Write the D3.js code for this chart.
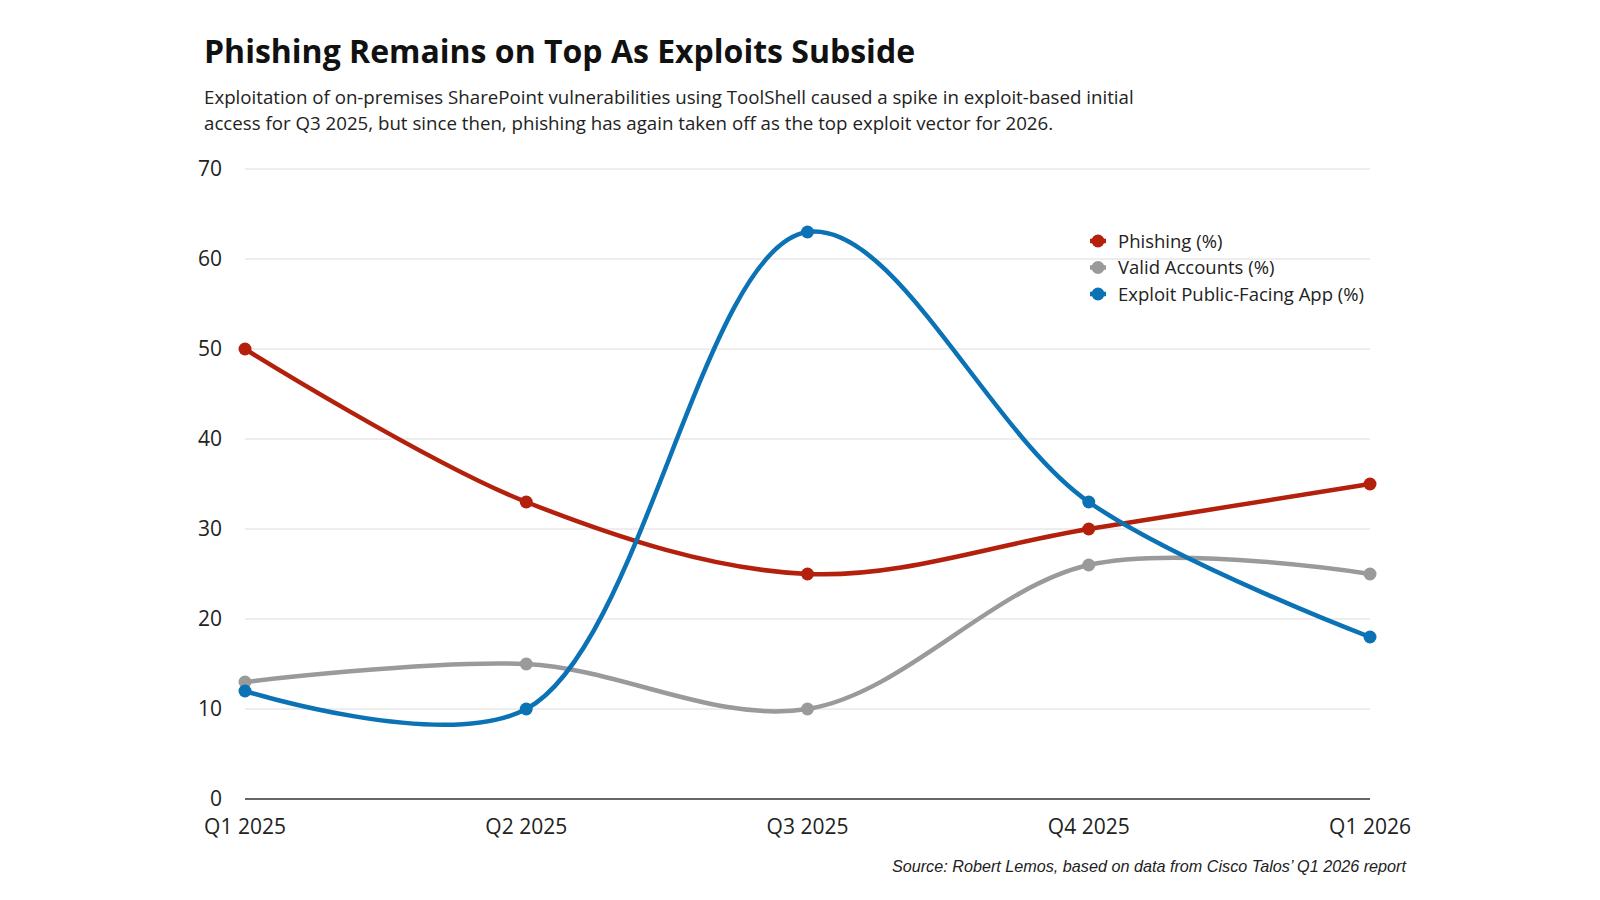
<!DOCTYPE html>
<html>
<head>
<meta charset="utf-8">
<script src="https://cdn.jsdelivr.net/npm/d3@7"></script>
<style>
  body { margin: 0; background: #fff; }
  text { font-family: "Open Sans", sans-serif; }
</style>
</head>
<body>
<div id="chart"></div>
<script>
// chart data
const quarters = ["Q1 2025", "Q2 2025", "Q3 2025", "Q4 2025", "Q1 2026"];
const phishing = [50, 33, 25, 30, 35];
const validAccounts = [13, 15, 10, 26, 25];
const exploitApp = [12, 10, 63, 33, 18];
const yTicks = [0, 10, 20, 30, 40, 50, 60, 70];

const seriesNames = ["Phishing (%)", "Valid Accounts (%)", "Exploit Public-Facing App (%)"];
const seriesColors = ["#b3200c", "#9a9a9a", "#0b72b5"];
const seriesValues = [phishing, validAccounts, exploitApp];

const width = 1600, height = 900;
const margin = { top: 169, right: 230, bottom: 101, left: 245 };

const svg = d3.select("#chart").append("svg")
  .attr("width", width)
  .attr("height", height);

// Title + subtitle
svg.append("text")
  .attr("x", 204).attr("y", 63)
  .attr("font-size", 32).attr("font-weight", 700)
  .attr("fill", "#111")
  .text("Phishing Remains on Top As Exploits Subside");

const sub = svg.append("text")
  .attr("x", 204).attr("y", 104)
  .attr("font-size", 18.7).attr("fill", "#222");
sub.append("tspan").attr("x", 204).attr("dy", 0)
  .text("Exploitation of on-premises SharePoint vulnerabilities using ToolShell caused a spike in exploit-based initial");
sub.append("tspan").attr("x", 204).attr("dy", 26)
  .text("access for Q3 2025, but since then, phishing has again taken off as the top exploit vector for 2026.");

const x = d3.scalePoint()
  .domain(quarters)
  .range([margin.left, width - margin.right]);

const y = d3.scaleLinear()
  .domain([0, 70])
  .range([height - margin.bottom, margin.top]);

// gridlines
svg.append("g")
  .selectAll("line")
  .data(yTicks.filter(d => d > 0))
  .join("line")
  .attr("x1", margin.left)
  .attr("x2", width - margin.right)
  .attr("y1", d => y(d))
  .attr("y2", d => y(d))
  .attr("stroke", "#dcdcdc")
  .attr("stroke-width", 1);

// baseline
svg.append("line")
  .attr("x1", margin.left).attr("x2", width - margin.right)
  .attr("y1", y(0)).attr("y2", y(0))
  .attr("stroke", "#333").attr("stroke-width", 1.5);

// y axis labels
svg.append("g")
  .selectAll("text")
  .data(yTicks)
  .join("text")
  .attr("x", 222)
  .attr("y", d => y(d) + 7)
  .attr("text-anchor", "end")
  .attr("font-size", 21)
  .attr("fill", "#222")
  .text(d => d);

// x axis labels
svg.append("g")
  .selectAll("text")
  .data(quarters)
  .join("text")
  .attr("x", d => x(d))
  .attr("y", 834)
  .attr("text-anchor", "middle")
  .attr("font-size", 21)
  .attr("fill", "#222")
  .text(d => d);

// lines
const line = d3.line()
  .x((d, i) => x(quarters[i]))
  .y(d => y(d))
  .curve(d3.curveCatmullRom.alpha(0.5));

const draw = [1, 0, 2]; // draw order
draw.forEach(k => {
  const g = svg.append("g");
  g.append("path")
    .datum(seriesValues[k])
    .attr("d", line)
    .attr("fill", "none")
    .attr("stroke", seriesColors[k])
    .attr("stroke-width", 4.5)
    .attr("stroke-linecap", "round");
  g.selectAll("circle")
    .data(seriesValues[k])
    .join("circle")
    .attr("cx", (d, i) => x(quarters[i]))
    .attr("cy", d => y(d))
    .attr("r", 6.5)
    .attr("fill", seriesColors[k]);
});

// legend
const legend = svg.append("g");
seriesNames.forEach((name, i) => {
  const ly = 241 + i * 26.5;
  legend.append("line")
    .attr("x1", 1090).attr("x2", 1106)
    .attr("y1", ly).attr("y2", ly)
    .attr("stroke", seriesColors[i]).attr("stroke-width", 4.5);
  legend.append("circle")
    .attr("cx", 1098).attr("cy", ly).attr("r", 6.5)
    .attr("fill", seriesColors[i]);
  legend.append("text")
    .attr("x", 1118).attr("y", ly + 6.5)
    .attr("font-size", 18.5)
    .attr("fill", "#222")
    .text(name);
});

// source
svg.append("text")
  .attr("x", 1406).attr("y", 872)
  .attr("text-anchor", "end")
  .attr("font-size", 16.2)
  .attr("font-style", "italic")
  .attr("fill", "#222")
  .style("font-family", "'Liberation Sans', Arial, sans-serif")
  .text("Source: Robert Lemos, based on data from Cisco Talos’ Q1 2026 report");
</script>
</body>
</html>
